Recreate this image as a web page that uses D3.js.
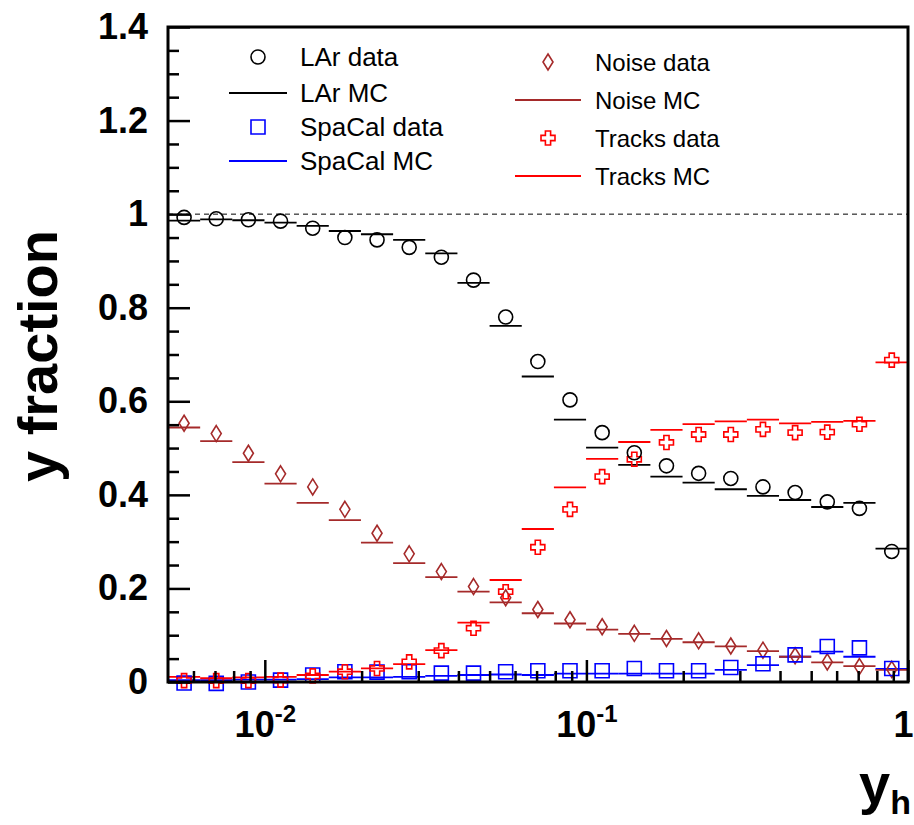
<!DOCTYPE html>
<html>
<head>
<meta charset="utf-8">
<script src="https://cdn.jsdelivr.net/npm/d3@7"></script>
<style>
  html, body { margin: 0; padding: 0; background: #fff; }
  svg { display: block; }
</style>
</head>
<body>
<svg id="chart" width="914" height="825"></svg>
<script>
// ---- data ----
const binEdges = [0.005, 0.006295, 0.007924, 0.009976, 0.012559, 0.015811, 0.019905, 0.025059,
  0.031548, 0.039716, 0.05, 0.062946, 0.079245, 0.099763, 0.125594, 0.158114, 0.199054,
  0.250594, 0.315479, 0.397164, 0.5, 0.629463, 0.792447, 1.0];

const larData = [0.993, 0.990, 0.988, 0.985, 0.970, 0.950, 0.945, 0.929, 0.908, 0.859, 0.780, 0.685,
  0.603, 0.533, 0.490, 0.462, 0.446, 0.435, 0.417, 0.405, 0.385, 0.371, 0.279];
const larMC = [0.986, 0.989, 0.987, 0.982, 0.975, 0.964, 0.957, 0.945, 0.916, 0.853, 0.761, 0.653,
  0.561, 0.501, 0.464, 0.439, 0.426, 0.412, 0.398, 0.389, 0.374, 0.383, 0.285];
const spacalData = [-0.002, -0.003, 0.000, 0.004, 0.015, 0.022, 0.021, 0.022, 0.019, 0.019, 0.022, 0.024,
  0.024, 0.024, 0.029, 0.024, 0.024, 0.031, 0.039, 0.058, 0.076, 0.073, 0.029];
const spacalMC = [0.004, 0.004, 0.005, 0.005, 0.006, 0.010, 0.010, 0.011, 0.013, 0.015, 0.016, 0.015,
  0.018, 0.018, 0.018, 0.018, 0.018, 0.026, 0.036, 0.054, 0.065, 0.054, 0.028];
const noiseData = [0.553, 0.531, 0.489, 0.445, 0.417, 0.369, 0.318, 0.274, 0.236, 0.204, 0.180, 0.155,
  0.133, 0.118, 0.104, 0.093, 0.088, 0.077, 0.068, 0.056, 0.043, 0.033, 0.027];
const noiseMC = [0.544, 0.515, 0.470, 0.424, 0.383, 0.346, 0.298, 0.254, 0.224, 0.193, 0.170, 0.147,
  0.125, 0.112, 0.103, 0.092, 0.085, 0.076, 0.066, 0.054, 0.042, 0.034, 0.026];
const tracksData = [0.003, 0.003, 0.003, 0.004, 0.013, 0.022, 0.029, 0.043, 0.067, 0.115, 0.193, 0.288,
  0.369, 0.439, 0.476, 0.512, 0.529, 0.529, 0.540, 0.533, 0.534, 0.551, 0.688];
const tracksMC = [0.011, 0.008, 0.010, 0.011, 0.015, 0.022, 0.029, 0.038, 0.068, 0.127, 0.218, 0.327,
  0.416, 0.477, 0.513, 0.539, 0.551, 0.557, 0.561, 0.553, 0.556, 0.558, 0.683];

const yMajorTicks = [0, 0.2, 0.4, 0.6, 0.8, 1, 1.2, 1.4];
const yTickLabels = ["0", "0.2", "0.4", "0.6", "0.8", "1", "1.2", "1.4"];
const xMajorTicks = [0.01, 0.1, 1];
const xTickBase = ["10", "10", "1"];
const xTickExp = ["-2", "-1", ""];

const series = [
  { name: "LAr", data: larData, mc: larMC, color: "#000000", marker: "circle" },
  { name: "SpaCal", data: spacalData, mc: spacalMC, color: "#0000ff", marker: "square" },
  { name: "Noise", data: noiseData, mc: noiseMC, color: "#a52a2a", marker: "diamond" },
  { name: "Tracks", data: tracksData, mc: tracksMC, color: "#ff0000", marker: "cross" }
];

// ---- layout ----
const L = 168, R = 908, T = 27, B = 682;
const svg = d3.select("#chart");
svg.append("rect").attr("width", 914).attr("height", 825).attr("fill", "#fff");

const x = d3.scaleLog().domain([0.005, 1]).range([L, R]);
const y = d3.scaleLinear().domain([0, 1.4]).range([B, T]);

const FONT = "'Liberation Sans', Arial, Helvetica, sans-serif";

// markers
function markerPath(type) {
  if (type === "square") return "M-7,-7H7V7H-7Z";
  if (type === "diamond") return "M0,-8L5,0L0,8L-5,0Z";
  if (type === "cross") {
    const a = 2.6, b = 7;
    return `M${-a},${-b}H${a}V${-a}H${b}V${a}H${a}V${b}H${-a}V${a}H${-b}V${-a}H${-a}Z`;
  }
  return null;
}
function drawMarker(g, type, color) {
  if (type === "circle") {
    g.append("circle").attr("r", 7).attr("fill", "none").attr("stroke", color).attr("stroke-width", 1.6);
  } else {
    g.append("path").attr("d", markerPath(type)).attr("fill", "none").attr("stroke", color).attr("stroke-width", 1.6);
  }
}

const plot = svg.append("g");

// dashed line at 1
plot.append("line").attr("x1", L).attr("x2", R).attr("y1", y(1)).attr("y2", y(1))
  .attr("stroke", "#000").attr("stroke-width", 1).attr("stroke-dasharray", "5,4");

const bins = d3.range(larData.length).map(i => ({ lo: binEdges[i], hi: binEdges[i + 1], c: Math.sqrt(binEdges[i] * binEdges[i + 1]) }));

// MC segments
series.forEach(s => {
  plot.append("g").selectAll("line").data(s.mc).join("line")
    .attr("x1", (d, i) => x(bins[i].lo)).attr("x2", (d, i) => x(bins[i].hi))
    .attr("y1", d => y(d)).attr("y2", d => y(d))
    .attr("stroke", s.color).attr("stroke-width", 1.8);
});
// data markers
const order = ["Noise", "SpaCal", "Tracks", "LAr"];
order.forEach(nm => {
  const s = series.find(t => t.name === nm);
  const g = plot.append("g");
  s.data.forEach((d, i) => {
    const m = g.append("g").attr("transform", `translate(${x(bins[i].c)},${y(d)})`);
    drawMarker(m, s.marker, s.color);
  });
});

// axes
const yMinor = d3.range(0, 1.4001, 0.05).filter(v => Math.abs(v / 0.2 - Math.round(v / 0.2)) > 1e-6);
const yAxis = d3.axisLeft(y).tickValues(yMajorTicks).tickSize(-22).tickPadding(20)
  .tickFormat((d, i) => yTickLabels[i]);
const gy = svg.append("g").attr("transform", `translate(${L},0)`).call(yAxis);
gy.select(".domain").remove();
gy.selectAll(".tick line").attr("stroke", "#000").attr("stroke-width", 2.5);
gy.selectAll("text").attr("font-family", FONT).attr("font-weight", "bold").attr("font-size", 36).attr("fill", "#000");
const gym = svg.append("g").attr("transform", `translate(${L},0)`)
  .call(d3.axisLeft(y).tickValues(yMinor).tickSize(-11).tickFormat(""));
gym.select(".domain").remove();
gym.selectAll(".tick line").attr("stroke", "#000").attr("stroke-width", 2.5);

const xMinor = [];
[0.001, 0.01, 0.1].forEach(dec => { for (let k = 2; k <= 9; k++) { const v = dec * k; if (v > 0.005 - 1e-9 && v < 1) xMinor.push(v); } });
const xAxis = d3.axisBottom(x).tickValues(xMajorTicks).tickSize(-22).tickFormat("");
const gx = svg.append("g").attr("transform", `translate(0,${B})`).call(xAxis);
gx.select(".domain").remove();
gx.selectAll(".tick line").attr("stroke", "#000").attr("stroke-width", 2.5);
const gxm = svg.append("g").attr("transform", `translate(0,${B})`)
  .call(d3.axisBottom(x).tickValues(xMinor.filter(v => v > 0.0051)).tickSize(-11).tickFormat(""));
gxm.select(".domain").remove();
gxm.selectAll(".tick line").attr("stroke", "#000").attr("stroke-width", 2.5);

// x tick labels with superscripts
gx.selectAll(".tick").each(function (d, i) {
  const t = d3.select(this).select("text");
  t.text(null).attr("y", 55).attr("dy", null).attr("font-family", FONT).attr("font-weight", "bold")
    .attr("font-size", 36).attr("fill", "#000").attr("text-anchor", xTickExp[i] ? "middle" : "end")
    .attr("x", xTickExp[i] ? 0 : 5);
  t.append("tspan").text(xTickBase[i]);
  if (xTickExp[i]) t.append("tspan").attr("font-size", 24).attr("dy", -15).text(xTickExp[i]);
});

// frame
svg.append("rect").attr("x", L).attr("y", T).attr("width", R - L).attr("height", B - T)
  .attr("fill", "none").attr("stroke", "#000").attr("stroke-width", 3);

// axis titles
svg.append("text").attr("transform", "translate(57,356) rotate(-90)").attr("text-anchor", "middle")
  .attr("font-family", FONT).attr("font-weight", "bold").attr("font-size", 56).text("y fraction");
const xt = svg.append("text").attr("x", 911).attr("y", 803).attr("text-anchor", "end").attr("font-family", FONT)
  .attr("font-weight", "bold").attr("font-size", 56);
xt.append("tspan").text("y");
xt.append("tspan").attr("font-size", 34).attr("dy", 11).text("h");

// legend
const legendLeft = [
  { label: "LAr data", s: series[0], kind: "data", cy: 57 },
  { label: "LAr MC", s: series[0], kind: "mc", cy: 93 },
  { label: "SpaCal data", s: series[1], kind: "data", cy: 127 },
  { label: "SpaCal MC", s: series[1], kind: "mc", cy: 161 }
];
const legendRight = [
  { label: "Noise data", s: series[2], kind: "data", cy: 62 },
  { label: "Noise MC", s: series[2], kind: "mc", cy: 100 },
  { label: "Tracks data", s: series[3], kind: "data", cy: 138 },
  { label: "Tracks MC", s: series[3], kind: "mc", cy: 176 }
];
function drawLegend(items, mx, lx1, lx2, tx, fs) {
  const lg = svg.append("g");
  items.forEach(it => {
    if (it.kind === "data") {
      const m = lg.append("g").attr("transform", `translate(${mx},${it.cy})`);
      drawMarker(m, it.s.marker, it.s.color);
    } else {
      lg.append("line").attr("x1", lx1).attr("x2", lx2).attr("y1", it.cy).attr("y2", it.cy)
        .attr("stroke", it.s.color).attr("stroke-width", 1.8);
    }
    lg.append("text").attr("x", tx).attr("y", it.cy).attr("dy", "0.36em")
      .attr("font-family", FONT).attr("font-size", fs).attr("fill", "#000").text(it.label);
  });
}
drawLegend(legendLeft, 258, 229, 287, 300, 26);
drawLegend(legendRight, 548, 515, 581, 595, 24);
</script>
</body>
</html>
